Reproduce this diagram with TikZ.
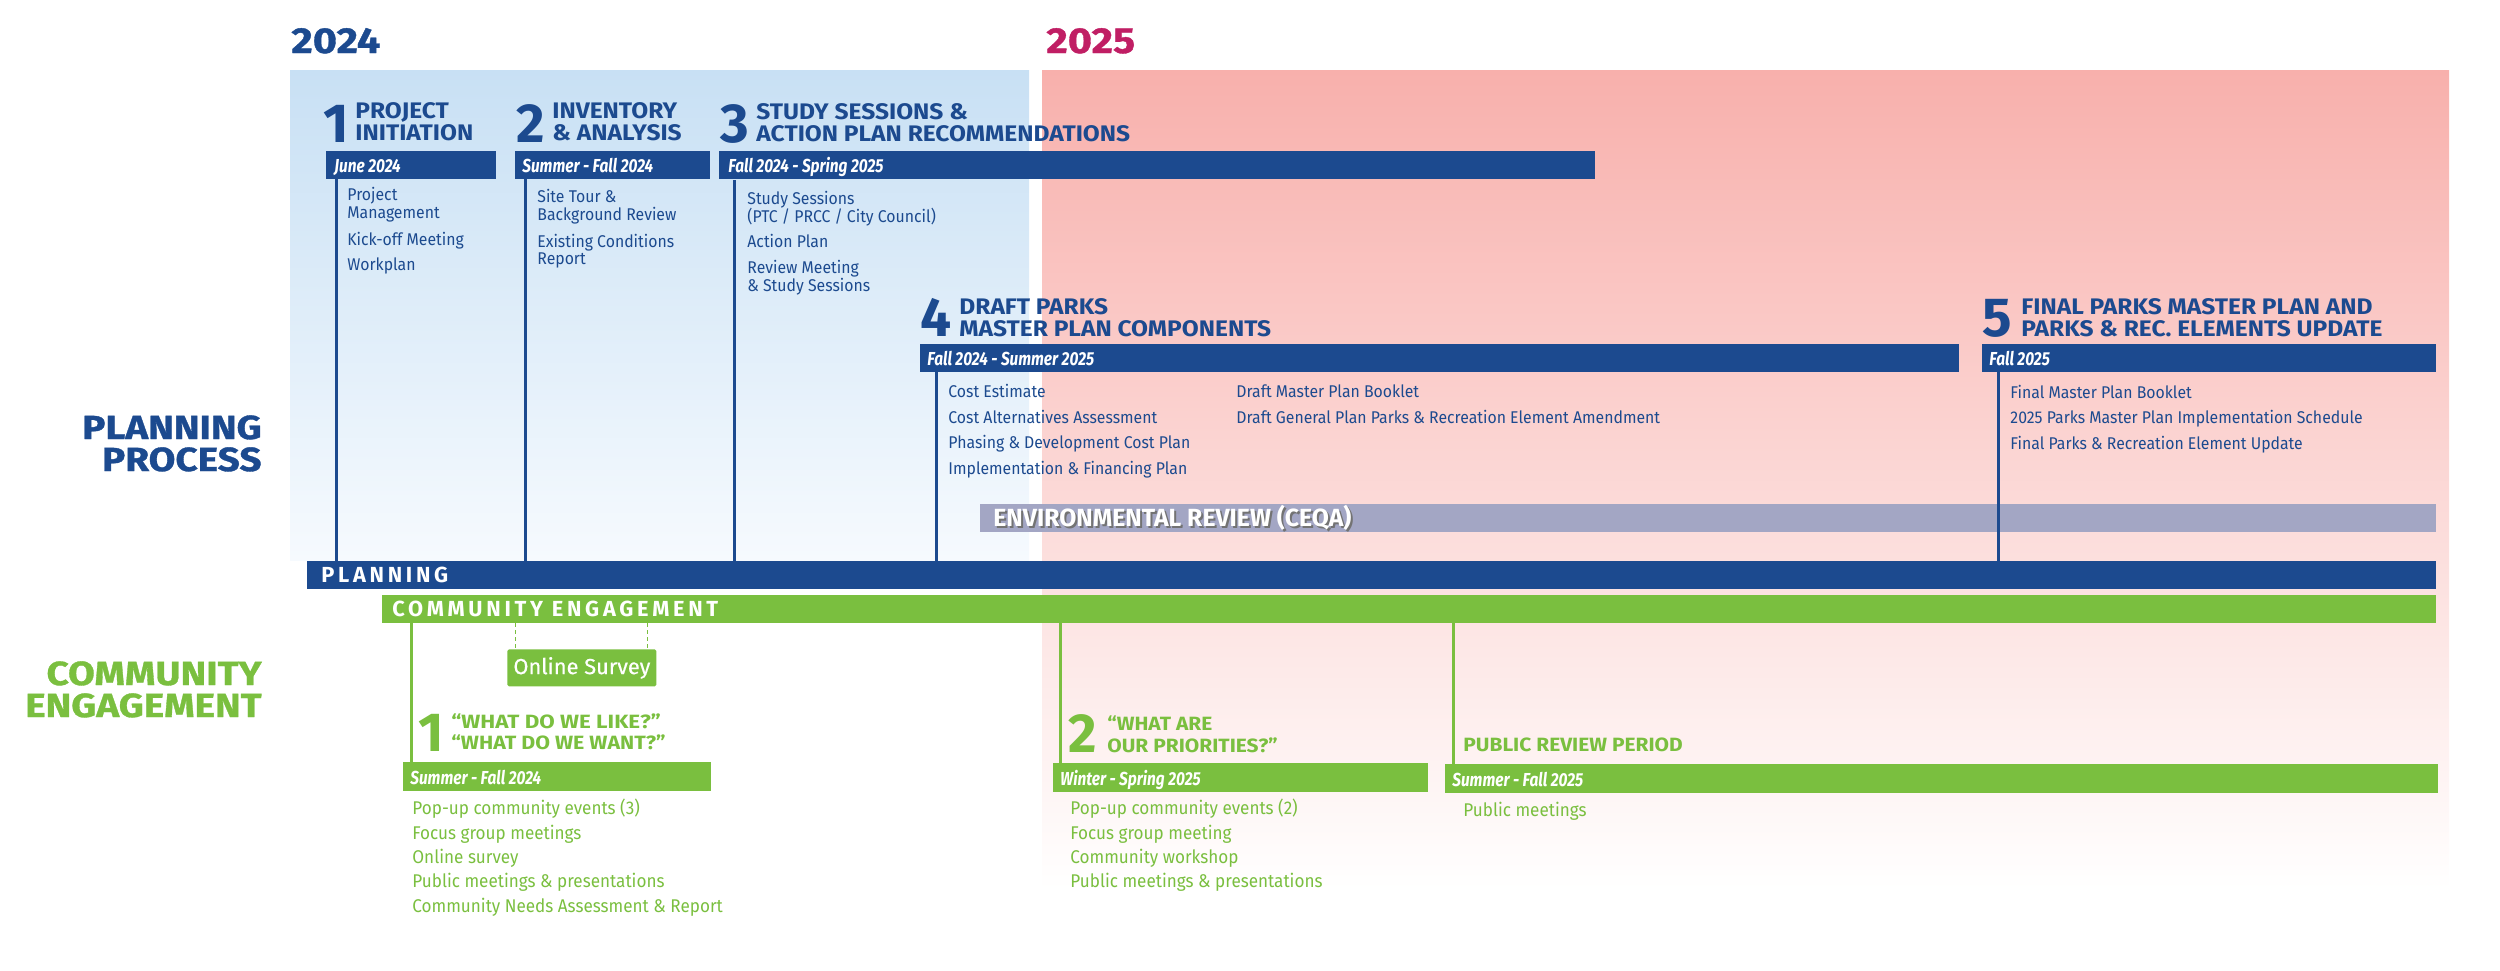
\documentclass[tikz,border=0pt]{standalone}
\usepackage{fontspec}
\setmainfont{Fira Sans}
\newfontfamily\hdfont[FakeStretch=1.09]{Fira Sans}
\newfontfamily\plainfont{Fira Sans}
\newfontfamily\yearfont[FakeStretch=1.15,FakeBold=1]{Fira Sans}
\newfontfamily\itemfont[FakeStretch=0.93]{Fira Sans}
\newfontfamily\datefont[FakeStretch=0.82]{Fira Sans}
\newfontfamily\sidefont[FakeStretch=1.16,FakeBold=1]{Fira Sans}
\newfontfamily\barfont[LetterSpace=17]{Fira Sans}
\definecolor{pblue}{RGB}{28,74,143}
\definecolor{pgreen}{RGB}{122,191,63}
\definecolor{pmag}{RGB}{192,30,100}
\definecolor{ceqa}{RGB}{163,166,196}
\definecolor{bluetop}{RGB}{200,224,244}
\definecolor{bluebot}{RGB}{246,250,254}
\definecolor{pinktop}{RGB}{248,176,172}
\tikzset{
  tx/.style={inner sep=0pt, anchor=base west},
  year/.style={tx, font=\yearfont\bfseries\fontsize{18}{20}\selectfont},
  hd/.style={tx, text depth=0pt, text=pblue, font=\hdfont\bfseries\fontsize{11.25}{12}\selectfont},
  dig/.style={tx, text=pblue, font=\plainfont\bfseries\fontsize{27.5}{30}\selectfont},
  itm/.style={tx, text=pblue, font=\itemfont\fontsize{8.5}{10}\selectfont},
  citm/.style={tx, text=pgreen, font=\itemfont\fontsize{9.2}{10}\selectfont},
  chd/.style={hd, text=pgreen, font=\hdfont\bfseries\fontsize{9.6}{11}\selectfont},
  cdig/.style={dig, text=pgreen},
  dt/.style={tx, text=white, font=\datefont\bfseries\itshape\fontsize{9.4}{10}\selectfont},
  side/.style={inner sep=0pt, text depth=0pt, anchor=base east, font=\sidefont\bfseries\fontsize{16.7}{18}\selectfont},
  bartxt/.style={tx, text=white, font=\barfont\bfseries\fontsize{10.9}{12}\selectfont},
  ceqatxt/.style={tx, font=\plainfont\bfseries\fontsize{12.4}{13}\selectfont},
  bar/.style={draw=none, inner sep=0pt, anchor=north west, minimum height=14pt},
  bbar/.style={bar, fill=pblue},
  gbar/.style={bar, fill=pgreen},
  vl/.style={draw=pblue, line width=1.5pt},
  gvl/.style={draw=pgreen, line width=1.5pt},
  dl/.style={draw=pgreen, line width=0.5pt, dash pattern=on 2pt off 1.5pt},
}
\begin{document}
\begin{tikzpicture}[x=0.5pt, y=-0.5pt]
\useasboundingbox (0,0) rectangle (2500,970);
% backgrounds
\shade[top color=bluetop, bottom color=bluebot] (290,70) rectangle (1029,560);
\shade[top color=pinktop, bottom color=white] (1042,70) rectangle (2449,890);
% years
\node[year, text=pblue] (y24) at (291,53) {2024};
\node[year, text=pmag] (y25) at (1046,53) {2025};
% side labels
\node[side, text=pblue] (sp1) at (262,439) {PLANNING};
\node[side, text=pblue] (sp2) at (262,471) {PROCESS};
\node[side, text=pgreen] (sc1) at (262,685) {COMMUNITY};
\node[side, text=pgreen] (sc2) at (262,717) {ENGAGEMENT};
% bars
\node[bbar, minimum width=85pt] (d1) at (326,151) {};
\node[bbar, minimum width=97.5pt] (d2) at (515,151) {};
\node[bbar, minimum width=438pt] (d3) at (719,151) {};
\node[bbar, minimum width=519.5pt] (d4) at (920,344) {};
\node[bbar, minimum width=227pt] (d5) at (1982,344) {};
\node[bar, fill=ceqa, minimum width=728pt] (cq) at (980,504) {};
\node[bbar, minimum width=1064.5pt] (pl) at (307,561) {};
\node[gbar, minimum width=1027pt] (ce) at (382,595) {};
\node[gbar, minimum width=154pt, minimum height=14.5pt] (c1) at (403,762) {};
\node[gbar, minimum width=187.5pt, minimum height=14.5pt] (c2) at (1053,763) {};
\node[gbar, minimum width=496.5pt, minimum height=14.5pt] (c3) at (1445,764) {};
\node[gbar, minimum width=74.5pt, minimum height=18.5pt, rounded corners=0.8pt] (os) at (507,649) {};
\node[inner sep=0pt, text=white, font=\plainfont\fontsize{10.9}{12}\selectfont\addfontfeature{FakeBold=0.5}] (ost) at (os.center) {Online Survey};
% blue verticals
\coordinate (v1) at (336,179);
\coordinate (v2) at (525,179);
\coordinate (v3) at (734,180);
\coordinate (v4) at (936,372);
\coordinate (v5) at (1998,372);
\draw[vl] (v1) -- (v1 |- pl.north);
\draw[vl] (v2) -- (v2 |- pl.north);
\draw[vl] (v3) -- (v3 |- pl.north);
\draw[vl] (v4) -- (v4 |- pl.north);
\draw[vl] (v5) -- (v5 |- pl.north);
% green verticals
\coordinate (g1) at (411,623);
\coordinate (g2) at (1060,623);
\coordinate (g3) at (1453,623);
\draw[gvl] (g1) -- (g1 |- c1.north);
\draw[gvl] (g2) -- (g2 |- c2.north);
\draw[gvl] (g3) -- (g3 |- c3.north);
\coordinate (o1) at (515,623);
\coordinate (o2) at (647,623);
\draw[dl] (o1) -- (o1 |- os.north);
\draw[dl] (o2) -- (o2 |- os.north);
% bar texts
\node[dt] (d1t) at (334,172) {June 2024};
\node[dt] (d2t) at (522,172) {Summer - Fall 2024};
\node[dt] (d3t) at (728,172) {Fall 2024 - Spring 2025};
\node[dt] (d4t) at (927,365) {Fall 2024 - Summer 2025};
\node[dt] (d5t) at (1989,365) {Fall 2025};
\node[dt] (c1t) at (410,784) {Summer - Fall 2024};
\node[dt] (c2t) at (1060,785) {Winter - Spring 2025};
\node[dt] (c3t) at (1452,786) {Summer - Fall 2025};
\node[ceqatxt, text=black!55] (cqs) at (995,528) {ENVIRONMENTAL REVIEW (CEQA)};
\node[ceqatxt, text=white] (cqt) at (993,526) {ENVIRONMENTAL REVIEW (CEQA)};
\node[bartxt] (plt) at (321,582) {PLANNING};
\node[bartxt] (cet) at (392,616) {COMMUNITY ENGAGEMENT};
% step 1
\node[dig] (n1) at (323,142) {1};
\node[hd] (h1a) at (355,118) {PROJECT};
\node[hd] (h1b) at (355,140) {INITIATION};
\node[itm] (i1a) at (347,200) {Project};
\node[itm] (i1b) at (347,218) {Management};
\node[itm] (i1c) at (347,245) {Kick-off Meeting};
\node[itm] (i1d) at (347,270) {Workplan};
% step 2
\node[dig] (n2) at (516,142) {2};
\node[hd] (h2a) at (552,118) {INVENTORY};
\node[hd] (h2b) at (552,140) {\& ANALYSIS};
\node[itm] (i2a) at (537,202) {Site Tour \&};
\node[itm] (i2b) at (537,220) {Background Review};
\node[itm] (i2c) at (537,247) {Existing Conditions};
\node[itm] (i2d) at (537,264) {Report};
% step 3
\node[dig] (n3) at (720,142) {3};
\node[hd] (h3a) at (756,119) {STUDY SESSIONS \&};
\node[hd] (h3b) at (756,141) {ACTION PLAN RECOMMENDATIONS};
\node[itm] (i3a) at (747,204) {Study Sessions};
\node[itm] (i3b) at (747,222) {(PTC / PRCC / City Council)};
\node[itm] (i3c) at (747,247) {Action Plan};
\node[itm] (i3d) at (747,273) {Review Meeting};
\node[itm] (i3e) at (747,291) {\& Study Sessions};
% step 4
\node[dig] (n4) at (920,336) {4};
\node[hd] (h4a) at (959,314) {DRAFT PARKS};
\node[hd] (h4b) at (959,336) {MASTER PLAN COMPONENTS};
\node[itm] (i4a) at (948,397) {Cost Estimate};
\node[itm] (i4b) at (948,423) {Cost Alternatives Assessment};
\node[itm] (i4c) at (948,448) {Phasing \& Development Cost Plan};
\node[itm] (i4d) at (948,474) {Implementation \& Financing Plan};
\node[itm] (i4e) at (1236,397) {Draft Master Plan Booklet};
\node[itm] (i4f) at (1236,423) {Draft General Plan Parks \& Recreation Element Amendment};
% step 5
\node[dig] (n5) at (1982,336) {5};
\node[hd] (h5a) at (2021,314) {FINAL PARKS MASTER PLAN AND};
\node[hd] (h5b) at (2021,336) {PARKS \& REC. ELEMENTS UPDATE};
\node[itm] (i5a) at (2010,398) {Final Master Plan Booklet};
\node[itm] (i5b) at (2010,423) {2025 Parks Master Plan Implementation Schedule};
\node[itm] (i5c) at (2010,449) {Final Parks \& Recreation Element Update};
% community 1
\node[cdig] (m1) at (418,751) {1};
\node[chd] (k1a) at (451,728) {\scalebox{1.07}[1]{“WHAT DO WE LIKE?”}};
\node[chd] (k1b) at (451,749) {\scalebox{1.02}[1]{“WHAT DO WE WANT?”}};
\node[citm] (j1a) at (412,814) {Pop-up community events (3)};
\node[citm] (j1b) at (412,839) {Focus group meetings};
\node[citm] (j1c) at (412,863) {Online survey};
\node[citm] (j1d) at (412,887) {Public meetings \& presentations};
\node[citm] (j1e) at (412,912) {Community Needs Assessment \& Report};
% community 2
\node[cdig] (m2) at (1068,752) {2};
\node[chd] (k2a) at (1107,730) {“WHAT ARE};
\node[chd] (k2b) at (1107,752) {OUR PRIORITIES?”};
\node[citm] (j2a) at (1070,814) {Pop-up community events (2)};
\node[citm] (j2b) at (1070,839) {Focus group meeting};
\node[citm] (j2c) at (1070,863) {Community workshop};
\node[citm] (j2d) at (1070,887) {Public meetings \& presentations};
% public review
\node[chd] (k3a) at (1463,751) {PUBLIC REVIEW PERIOD};
\node[citm] (j3a) at (1463,816) {Public meetings};
\end{tikzpicture}
\end{document}
